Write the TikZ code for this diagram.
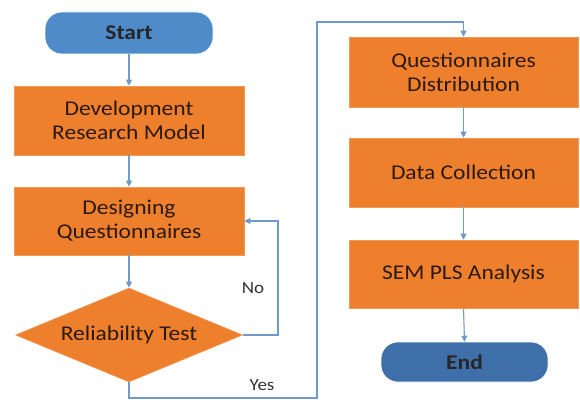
\documentclass[tikz,border=0pt]{standalone}
\usepackage{fontspec}
\setmainfont{Carlito}[FakeStretch=1.12]
\usetikzlibrary{arrows.meta,shapes.geometric}
\definecolor{boxorange}{HTML}{EE7F2D}
\definecolor{startblue}{HTML}{4F8BC9}
\definecolor{endblue}{HTML}{3F6FA8}
\definecolor{linkblue}{HTML}{6E9BCB}
\definecolor{inkdark}{HTML}{2A1A10}
\begin{document}
\begin{tikzpicture}[x=1pt,y=-1pt,
  every node/.style={font=\fontsize{21}{24}\selectfont, text=inkdark, align=center, inner sep=0pt},
  stepbox/.style={rectangle, fill=boxorange, draw=boxorange!80!white, line width=0.6pt},
  terminal/.style={rounded corners=17pt, draw=white, line width=0.6pt, font=\fontsize{21}{24}\selectfont\bfseries, text=black!85},
  decision/.style={diamond, fill=boxorange, draw=boxorange!80!white, line width=0.6pt},
  link/.style={draw=linkblue, line width=1.1pt, -{Triangle[length=6pt,width=6pt]}},
  lbl/.style={font=\fontsize{17}{20}\selectfont, text=black!80}]
\useasboundingbox (0,0) rectangle (580,401);
\fill[white] (0,0) rectangle (580,401);

% left column
\node[terminal, fill=startblue, minimum width=168pt, minimum height=42pt] (start) at (129,33) {Start};
\node[stepbox, minimum width=230pt, minimum height=69pt] (dev) at (129,120.5) {Development\\Research Model};
\node[stepbox, minimum width=230pt, minimum height=68pt] (design) at (129,221) {Designing\\Questionnaires};
\node[decision, minimum width=227pt, minimum height=94pt, aspect=2.4] (rel) at (129,335) {};
\node at (rel.center) {Reliability Test};

% right column
\node[stepbox, minimum width=229pt, minimum height=70pt] (dist) at (463.5,72) {Questionnaires\\Distribution};
\node[stepbox, minimum width=229pt, minimum height=69pt] (coll) at (463.5,172.5) {Data Collection};
\node[stepbox, minimum width=229pt, minimum height=68pt] (sem) at (463.5,274) {SEM PLS Analysis};
\node[terminal, fill=endblue, minimum width=167pt, minimum height=40pt] (end) at (464.5,362) {End};

% routing points
\coordinate (noturn) at (278,335);
\coordinate (yesdown) at (129,398);
\coordinate (yesright) at (317,398);
\coordinate (yesup) at (317,22);
\coordinate (yestop) at (463.5,22);

% connectors
\draw[link] (start.south) -- (dev.north);
\draw[link] (dev.south) -- (design.north);
\draw[link] (design.south) -- (rel.north);
\draw[link] (rel.east) -- (noturn) |- (design.east);
\draw[link] (rel.south) -- (yesdown) -- (yesright) -- (yesup) -- (yestop) -- (dist.north);
\draw[link] (dist.south) -- (coll.north);
\draw[link] (coll.south) -- (sem.north);
\draw[link] (sem.south) -- (end.north);

% branch labels
\node[lbl] (nolbl) at (253,288) {No};
\node[lbl] (yeslbl) at (262,385) {Yes};
\end{tikzpicture}
\end{document}
